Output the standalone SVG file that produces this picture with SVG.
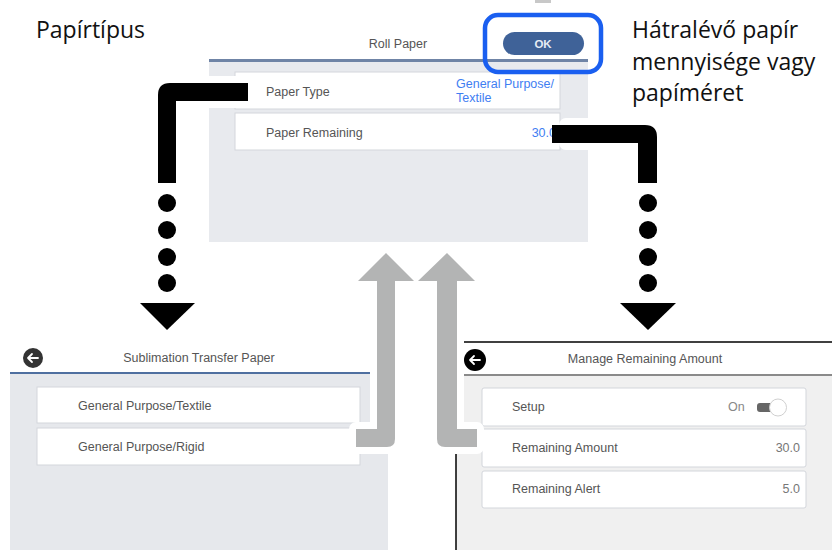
<svg xmlns="http://www.w3.org/2000/svg" width="832" height="550" viewBox="0 0 832 550">
<style>
.lbl{font-family:"Open Sans","Noto Sans",sans-serif;font-size:23px;fill:#111}
.ui{font-family:"Liberation Sans",Arial,sans-serif;font-size:12.5px;fill:#555}
.blue{fill:#3f7ef2}
.card{fill:#fff;stroke:#d3d6db;stroke-width:1}
.blk{fill:#000}
.halo{fill:#fff;stroke:#fff;stroke-width:14;stroke-linejoin:round}
.gray{fill:#b3b4b4}
</style>
<rect width="832" height="550" fill="#fff"/>

<g id="label-papirtipus"><text class="lbl" x="36" y="38">Papírtípus</text></g>
<g id="label-hatralevo">
<text class="lbl" x="632" y="38">Hátralévő papír</text>
<text class="lbl" x="632" y="70">mennyisége vagy</text>
<text class="lbl" x="632" y="101">papíméret</text>
</g>

<g id="screen-roll-paper">
<rect x="535" y="0" width="16" height="3" fill="#c8c8c8"/>
<text class="ui" x="398" y="48" text-anchor="middle">Roll Paper</text>
<rect x="209" y="59" width="379" height="3" fill="#6f84a6"/>
<rect x="209" y="62" width="379" height="180" fill="#e8eaee"/>
<rect class="card" x="235" y="72" width="325" height="37"/>
<rect class="card" x="235" y="113" width="325" height="37"/>
<text class="ui" x="266" y="96">Paper Type</text>
<text class="ui" x="266" y="137">Paper Remaining</text>
<text class="ui blue" x="456" y="88">General Purpose/</text>
<text class="ui blue" x="456" y="102">Textile</text>
<text class="ui blue" x="556" y="137" text-anchor="end">30.0</text>
<rect x="503" y="32" width="81" height="23" rx="11.5" fill="#3f6298"/>
<text x="543" y="48" text-anchor="middle" font-family="Liberation Sans,Arial,sans-serif" font-size="11.5" font-weight="bold" fill="#e6ecf5">OK</text>
<rect x="485" y="15" width="116" height="57" rx="13" fill="none" stroke="#1a5ff0" stroke-width="4.5"/>
</g>

<g id="screen-sublimation">
<circle cx="33" cy="358" r="10" fill="#333"/>
<path d="M38,358 H28 M32,354 L28,358 L32,362" fill="none" stroke="#fff" stroke-width="1.8" stroke-linecap="round" stroke-linejoin="round"/>
<text class="ui" x="199" y="362" text-anchor="middle">Sublimation Transfer Paper</text>
<rect x="10" y="372" width="378" height="178" fill="#e6e8ec"/>
<rect x="10" y="372" width="360" height="2" fill="#4f6fa0"/>
<rect class="card" x="37" y="387" width="323" height="36"/>
<rect class="card" x="37" y="428" width="323" height="37"/>
<text class="ui" x="78" y="410">General Purpose/Textile</text>
<text class="ui" x="78" y="451">General Purpose/Rigid</text>
</g>

<g id="screen-remaining">
<rect x="456" y="375" width="376" height="175" fill="#f0f0f0"/>
<line x1="456" y1="342" x2="832" y2="342" stroke="#000" stroke-width="1.5"/>
<line x1="456" y1="342" x2="456" y2="550" stroke="#000" stroke-width="1.5"/>
<rect x="457" y="374" width="375" height="2" fill="#8a8a8a"/>
<circle cx="475" cy="360" r="11" fill="#000"/>
<path d="M480,360 H470 M474,356 L470,360 L474,364" fill="none" stroke="#fff" stroke-width="1.8" stroke-linecap="round" stroke-linejoin="round"/>
<text class="ui" x="645" y="363" text-anchor="middle" fill="#666">Manage Remaining Amount</text>
<rect class="card" x="482" y="388" width="324" height="38" rx="2"/>
<rect class="card" x="482" y="429" width="324" height="38" rx="2"/>
<rect class="card" x="482" y="471" width="324" height="37" rx="2"/>
<text class="ui" x="512" y="411">Setup</text>
<text class="ui" x="512" y="452">Remaining Amount</text>
<text class="ui" x="512" y="493">Remaining Alert</text>
<text class="ui" x="728" y="411" style="fill:#888">On</text>
<rect x="757" y="403" width="18" height="9" rx="3" fill="#666"/>
<circle cx="778" cy="407.5" r="8.5" fill="#fff" stroke="#d0d0d0"/>
<text class="ui" x="800" y="452" text-anchor="end" style="fill:#777">30.0</text>
<text class="ui" x="800" y="493" text-anchor="end" style="fill:#777">5.0</text>
</g>

<g id="connectors">
<path class="halo" d="M356,429 L377,429 L377,281 L358,281 L386,253 L414,281 L395,281 L395,439 Q395,447 387,447 L356,447 Z"/>
<path class="halo" d="M477,429 L457,429 L457,281 L475,281 L447,253 L418,281 L437,281 L437,439 Q437,447 445,447 L477,447 Z"/>
<path class="gray" d="M356,429 L377,429 L377,281 L358,281 L386,253 L414,281 L395,281 L395,439 Q395,447 387,447 L356,447 Z"/>
<path class="gray" d="M477,429 L457,429 L457,281 L475,281 L447,253 L418,281 L437,281 L437,439 Q437,447 445,447 L477,447 Z"/>

<path class="halo" d="M248,83 L170,83 Q158,83 158,95 L158,183 L176,183 L176,101 L248,101 Z" stroke-width="12"/>
<path class="blk" d="M248,83 L170,83 Q158,83 158,95 L158,183 L176,183 L176,101 L248,101 Z"/>
<circle class="blk" cx="167" cy="203" r="9"/>
<circle class="blk" cx="167" cy="230" r="9"/>
<circle class="blk" cx="167" cy="257" r="9"/>
<circle class="blk" cx="167" cy="283" r="9"/>
<polygon class="blk" points="140,303 195,303 167,330"/>

<path class="halo" d="M566,125 L645,125 Q657,125 657,137 L657,183 L638,183 L638,143 L566,143 Z" stroke-width="12"/>
<path class="blk" d="M552,125 L645,125 Q657,125 657,137 L657,183 L638,183 L638,143 L552,143 Z"/>
<circle class="blk" cx="648" cy="203" r="9"/>
<circle class="blk" cx="648" cy="230" r="9"/>
<circle class="blk" cx="648" cy="257" r="9"/>
<circle class="blk" cx="648" cy="283" r="9"/>
<polygon class="blk" points="620,303 676,303 648,330"/>
</g>
</svg>
